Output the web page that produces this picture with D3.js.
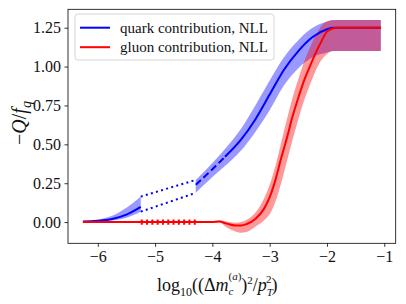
<!DOCTYPE html>
<html>
<head>
<meta charset="utf-8">
<script src="https://cdn.jsdelivr.net/npm/d3@7"></script>
<style>
  body { margin: 0; background: #fff; }
</style>
</head>
<body>
<svg id="chart" width="406" height="304"></svg>
<script>
const blue = '#0000ff';
const red = '#ff0000';
const serif = '"Liberation Serif", "DejaVu Serif", "Times New Roman", serif';

// quark, low region (solid)
const quarkX1 = [-6.26, -6.0, -5.75, -5.5, -5.25];
const quarkC1 = [0.003, 0.008, 0.02, 0.048, 0.098];
const quarkU1 = [0.006, 0.015, 0.04, 0.092, 0.164];
const quarkL1 = [0.0, 0.003, 0.01, 0.028, 0.067];

// quark, upper region
const quarkX2 = [-4.29, -4.0, -3.78, -3.5, -3.25, -3.0, -2.75, -2.5, -2.25, -2.0, -1.88, -1.5, -1.06];
const quarkC2 = [0.24, 0.34, 0.42, 0.53, 0.66, 0.82, 0.98, 1.10, 1.19, 1.24, 1.25, 1.25, 1.25];
const quarkU2 = [0.271, 0.38, 0.47, 0.60, 0.75, 0.91, 1.06, 1.17, 1.25, 1.29, 1.30, 1.30, 1.30];
const quarkL2 = [0.188, 0.29, 0.36, 0.46, 0.58, 0.72, 0.88, 0.99, 1.06, 1.09, 1.10, 1.10, 1.10];
const quarkDashEnd = -3.78;

// dotted edges across the gap
const gapX = [-5.25, -4.29];
const quarkGapU = [0.164, 0.271];
const quarkGapL = [0.067, 0.188];
const gluonGapU = [0.01, 0.01];
const gluonGapL = [-0.01, -0.01];

// gluon
const gluonX1 = [-6.26, -5.75, -5.25];
const gluonU1 = [0.003, 0.003, 0.004];
const gluonL1 = [-0.003, -0.003, -0.004];

const gluonX = [-6.26, -4.29, -4.0, -3.88, -3.75, -3.6, -3.5, -3.4, -3.25, -3.1, -3.0, -2.9, -2.8, -2.7, -2.6, -2.5, -2.4, -2.3, -2.2, -2.1, -2.0, -1.9, -1.8, -1.06];
const gluonC = [0, 0, 0, 0.003, -0.01, -0.022, -0.022, -0.012, 0.02, 0.085, 0.16, 0.27, 0.41, 0.54, 0.68, 0.80, 0.91, 1.00, 1.085, 1.16, 1.225, 1.245, 1.25, 1.25];
const gluonX2 = gluonX.slice(1);
const gluonU2 = [0.004, 0.005, 0.012, 0.003, -0.005, 0.0, 0.015, 0.06, 0.15, 0.24, 0.36, 0.51, 0.66, 0.80, 0.92, 1.03, 1.12, 1.20, 1.26, 1.29, 1.30, 1.30, 1.30];
const gluonL2 = [-0.004, -0.005, -0.003, -0.035, -0.06, -0.068, -0.063, -0.03, 0.01, 0.05, 0.13, 0.25, 0.39, 0.53, 0.66, 0.78, 0.88, 0.97, 1.04, 1.08, 1.10, 1.10, 1.10];

const xTicks = [-6, -5, -4, -3, -2, -1];
const yTicks = [0, 0.25, 0.5, 0.75, 1.0, 1.25];

const margin = {top: 9.3, right: 10.3, bottom: 60.7, left: 68};
const W = 406, H = 304;

const svg = d3.select('#chart');

// matplotlib-like 5% padding
const allX = quarkX1.concat(quarkX2, gluonX);
const allY = quarkU2.concat(gluonL2, quarkL1);
const xe = d3.extent(allX), ye = d3.extent(allY);
const px = (xe[1] - xe[0]) * 0.05, py = (ye[1] - ye[0]) * 0.05;

const x = d3.scaleLinear().domain([xe[0] - px, xe[1] + px]).range([margin.left, W - margin.right]);
const y = d3.scaleLinear().domain([ye[0] - py, ye[1] + py]).range([H - margin.bottom, margin.top]);

const zip = (xs, ys) => xs.map((v, i) => [v, ys[i]]);
const zip3 = (xs, us, ls) => xs.map((v, i) => [v, us[i], ls[i]]);

const line = d3.line().x(d => x(d[0])).y(d => y(d[1])).curve(d3.curveMonotoneX);
const area = d3.area().x(d => x(d[0])).y0(d => y(d[2])).y1(d => y(d[1])).curve(d3.curveMonotoneX);
const straight = d3.line().x(d => x(d[0])).y(d => y(d[1]));

const g = svg.append('g');

// bands
g.append('path').attr('d', area(zip3(quarkX1, quarkU1, quarkL1))).attr('fill', blue).attr('fill-opacity', 0.4);
g.append('path').attr('d', area(zip3(quarkX2, quarkU2, quarkL2))).attr('fill', blue).attr('fill-opacity', 0.4);
g.append('path').attr('d', area(zip3(gluonX1, gluonU1, gluonL1))).attr('fill', red).attr('fill-opacity', 0.4);
g.append('path').attr('d', area(zip3(gluonX2, gluonU2, gluonL2))).attr('fill', red).attr('fill-opacity', 0.4);

// quark lines
g.append('path').attr('d', line(zip(quarkX1, quarkC1))).attr('fill', 'none').attr('stroke', blue).attr('stroke-width', 2);
const q2 = zip(quarkX2, quarkC2);
g.append('path').attr('d', line(q2.filter(d => d[0] <= quarkDashEnd))).attr('fill', 'none')
  .attr('stroke', blue).attr('stroke-width', 2).attr('stroke-dasharray', '7,3.5');
g.append('path').attr('d', line(q2.filter(d => d[0] >= quarkDashEnd))).attr('fill', 'none')
  .attr('stroke', blue).attr('stroke-width', 2);
[quarkGapU, quarkGapL].forEach(ys => {
  g.append('path').attr('d', straight(zip(gapX, ys))).attr('fill', 'none')
    .attr('stroke', blue).attr('stroke-width', 2).attr('stroke-dasharray', '2,3.3');
});

// gluon lines
g.append('path').attr('d', line(zip(gluonX, gluonC))).attr('fill', 'none').attr('stroke', red).attr('stroke-width', 2);
[gluonGapU, gluonGapL].forEach(ys => {
  g.append('path').attr('d', straight(zip(gapX, ys))).attr('fill', 'none')
    .attr('stroke', red).attr('stroke-width', 2).attr('stroke-dasharray', '2,3.3');
});

// axes
const xAxis = svg.append('g').attr('transform', `translate(0,${H - margin.bottom})`)
  .call(d3.axisBottom(x).tickValues(xTicks).tickSize(3.5).tickPadding(3.5)
    .tickFormat(d => d3.format('d')(d).replace('-', '\u2212')));
const yAxis = svg.append('g').attr('transform', `translate(${margin.left},0)`)
  .call(d3.axisLeft(y).tickValues(yTicks).tickSize(3.5).tickPadding(3.5).tickFormat(d3.format('.2f')));
[xAxis, yAxis].forEach(a => {
  a.attr('font-family', null).attr('font-size', null);
  a.select('.domain').remove();
  a.selectAll('line').attr('stroke', '#000').attr('stroke-width', 0.8);
  a.selectAll('text').style('font-family', serif).style('font-size', '16px').attr('fill', '#111');
});

svg.append('rect').attr('x', margin.left).attr('y', margin.top)
  .attr('width', W - margin.left - margin.right).attr('height', H - margin.top - margin.bottom)
  .attr('fill', 'none').attr('stroke', '#000').attr('stroke-width', 0.8);

// legend
const leg = svg.append('g');
leg.append('rect').attr('x', 75).attr('y', 14).attr('width', 199).attr('height', 46).attr('rx', 3)
  .attr('fill', '#fff').attr('fill-opacity', 0.8).attr('stroke', '#ccc').attr('stroke-width', 0.8);
const legItems = [{label: 'quark contribution, NLL', color: blue}, {label: 'gluon contribution, NLL', color: red}];
legItems.forEach((d, i) => {
  const yy = 27.7 + i * 19.5;
  leg.append('line').attr('x1', 80).attr('x2', 110).attr('y1', yy).attr('y2', yy)
    .attr('stroke', d.color).attr('stroke-width', 2);
  leg.append('text').attr('x', 120).attr('y', yy + 5).style('font-family', serif).style('font-size', '15px')
    .attr('fill', '#111').text(d.label);
});

// x label
const xl = svg.append('text').attr('x', 157).attr('y', 291).style('font-family', serif).style('font-size', '18px').attr('fill', '#111');
xl.append('tspan').text('log');
xl.append('tspan').attr('dy', 5).style('font-size', '12px').text('10');
xl.append('tspan').attr('dy', -5).text('((Δ');
xl.append('tspan').style('font-style', 'italic').text('m');
xl.append('tspan').attr('dy', 4).style('font-size', '11px').style('font-style', 'italic').text('c');
xl.append('tspan').attr('dx', -5).attr('dy', -15).style('font-size', '11px').text('(');
xl.append('tspan').style('font-size', '11px').style('font-style', 'italic').text('a');
xl.append('tspan').style('font-size', '11px').text(')');
xl.append('tspan').attr('dy', 11).text(')');
xl.append('tspan').attr('dy', -7).style('font-size', '11px').text('2');
xl.append('tspan').attr('dy', 7).text('/');
xl.append('tspan').style('font-style', 'italic').text('p');
xl.append('tspan').attr('dy', 5).style('font-size', '11px').style('font-style', 'italic').text('T');
xl.append('tspan').attr('dx', -7).attr('dy', -13).style('font-size', '11px').text('2');
xl.append('tspan').attr('dy', 8).text(')');

// y label
const yl = svg.append('text').attr('transform', 'translate(26,123) rotate(-90)')
  .attr('text-anchor', 'middle').style('font-family', serif).style('font-size', '20px').attr('fill', '#111');
yl.append('tspan').text('\u2212');
yl.append('tspan').style('font-style', 'italic').text('Q');
yl.append('tspan').text('/');
yl.append('tspan').style('font-style', 'italic').text('f');
yl.append('tspan').attr('dy', 5).style('font-size', '14px').style('font-style', 'italic').text('q');
</script>
</body>
</html>
